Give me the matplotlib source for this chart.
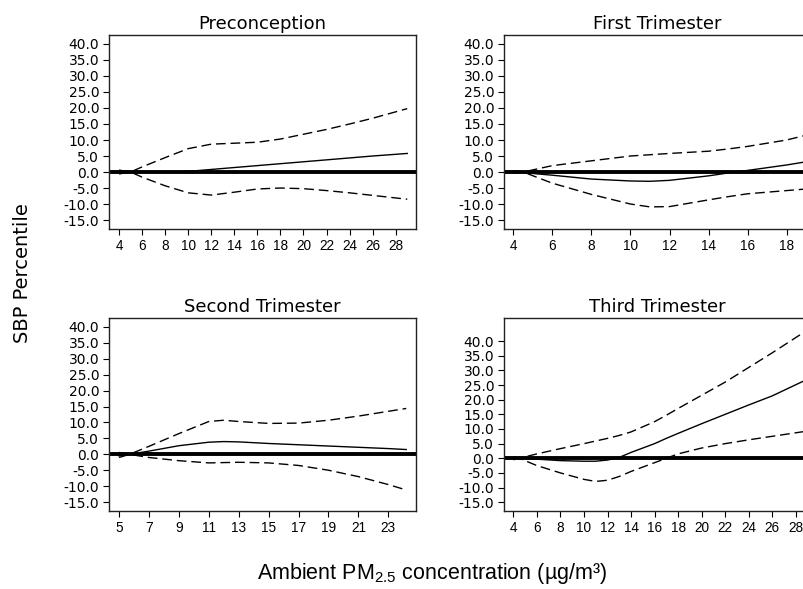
import matplotlib
matplotlib.use("Agg")
import matplotlib.pyplot as plt

plt.rcParams['font.family'] = ['Liberation Sans', 'DejaVu Sans']
plt.rcParams['mathtext.fontset'] = 'custom'
plt.rcParams['mathtext.rm'] = 'Liberation Sans'

# Preconception
pre_x = [4, 5, 6, 8, 10, 12, 14, 16, 18, 20, 22, 24, 26, 29]
pre_est = [0.0, 0.0, 0.0, 0.0, 0.2, 0.8, 1.4, 2.0, 2.6, 3.2, 3.8, 4.4, 5.0, 5.8]
pre_hi = [-0.6, 0.0, 1.6, 4.5, 7.3, 8.7, 9.0, 9.3, 10.3, 11.8, 13.3, 15.0, 16.8, 19.8]
pre_lo = [0.6, 0.0, -1.6, -4.3, -6.5, -7.2, -6.3, -5.3, -5.0, -5.2, -5.8, -6.5, -7.3, -8.5]

# First trimester
t1_x = [4, 4.5, 6, 8, 10, 11, 12, 14, 15, 16, 18, 19]
t1_est = [0.0, -0.2, -1.0, -2.2, -2.8, -2.9, -2.6, -1.2, -0.3, 0.5, 2.2, 3.2]
t1_hi = [-0.4, 0.0, 2.0, 3.5, 5.0, 5.4, 5.8, 6.5, 7.2, 8.0, 10.0, 11.5]
t1_lo = [0.4, 0.0, -3.5, -7.0, -10.0, -10.9, -10.8, -8.7, -7.7, -6.8, -5.8, -5.3]

# Second trimester
t2_x = [5, 5.7, 7, 9, 11, 12, 13, 15, 17, 19, 21, 23, 24.2]
t2_est = [-0.5, 0.0, 1.0, 2.7, 3.8, 4.0, 3.9, 3.4, 3.0, 2.6, 2.2, 1.8, 1.5]
t2_hi = [-1.0, 0.0, 2.5, 6.5, 10.3, 10.7, 10.3, 9.7, 9.8, 10.7, 12.0, 13.5, 14.4]
t2_lo = [0.6, 0.0, -1.0, -2.0, -2.7, -2.6, -2.5, -2.7, -3.5, -5.0, -7.0, -9.5, -11.2]

# Third trimester
t3_x = [4, 4.5, 6, 8, 10, 11, 12, 13, 14, 16, 17, 18, 20, 22, 24, 26, 29]
t3_est = [0.0, 0.0, -0.3, -0.8, -1.0, -1.0, -0.6, 0.3, 2.0, 5.0, 6.8, 8.5, 11.8, 15.0, 18.2, 21.3, 27.0]
t3_hi = [-0.5, 0.0, 1.5, 3.3, 5.0, 5.9, 6.8, 7.8, 9.0, 12.5, 14.7, 17.0, 21.5, 26.0, 31.0, 36.0, 43.8]
t3_lo = [0.5, 0.0, -2.5, -5.0, -7.2, -7.9, -7.5, -6.2, -4.5, -1.5, 0.0, 1.5, 3.5, 5.0, 6.3, 7.5, 9.3]

panels = [
    ("Preconception", pre_x, pre_est, pre_hi, pre_lo, list(range(4, 30, 2)), (3.13, 29.76), (-17.8, 42.8)),
    ("First Trimester", t1_x, t1_est, t1_hi, t1_lo, list(range(4, 20, 2)), (3.52, 19.25), (-17.8, 42.8)),
    ("Second Trimester", t2_x, t2_est, t2_hi, t2_lo, list(range(5, 25, 2)), (4.33, 24.85), (-17.8, 42.8)),
    ("Third Trimester", t3_x, t3_est, t3_hi, t3_lo, list(range(4, 30, 2)), (3.2, 29.3), (-18.0, 47.9)),
]
yticks = [40, 35, 30, 25, 20, 15, 10, 5, 0, -5, -10, -15]

W, H = 804, 589
fig = plt.figure(figsize=(W / 100, H / 100), dpi=100)
# panel boxes in pixels (left, top, right, bottom); right column runs off the canvas
boxes = [(109, 35, 416, 229), (504, 35, 811, 229),
         (109, 318, 416, 511), (504, 318, 811, 511)]

for (title, x, est, hi, lo, xt, xl, yl), (l, t, r, b) in zip(panels, boxes):
    ax = fig.add_axes([l / W, 1 - b / H, (r - l) / W, (b - t) / H])
    ax.axhline(0, color='black', lw=2.8, zorder=1)
    ax.plot(x, est, color='black', lw=1.0, zorder=2)
    for s in (hi, lo):
        ln, = ax.plot(x, s, color='black', lw=1.0, zorder=2)
        ln.set_dashes([7, 3.5])
    ax.set_xlim(*xl)
    ax.set_ylim(*yl)
    ax.set_xticks(xt)
    ax.set_xticklabels([str(v) for v in xt], fontsize=9.8, family='Liberation Sans')
    ax.set_yticks(yticks)
    ax.set_yticklabels([f"{v:.1f}" for v in yticks], fontsize=10, family='DejaVu Sans')
    ax.tick_params(direction='out', length=4.3, width=0.8, colors='black')
    ax.tick_params(axis='x', pad=3)
    ax.tick_params(axis='y', pad=2.8)
    for sp in ax.spines.values():
        sp.set_linewidth(1.0)
        sp.set_color('#222222')
    ax.set_title(title, fontsize=13, pad=4, family='DejaVu Sans')

fig.text(23 / W, 1 - 273 / H, "SBP Percentile", rotation=90, fontsize=14,
         ha='center', va='center', family='DejaVu Sans')
fig.text(432 / W, 1 - 573 / H, r"Ambient PM$_{\mathregular{2.5}}$ concentration (µg/m³)",
         fontsize=15.5, ha='center', va='center')

fig.savefig("out.png", dpi=100)
